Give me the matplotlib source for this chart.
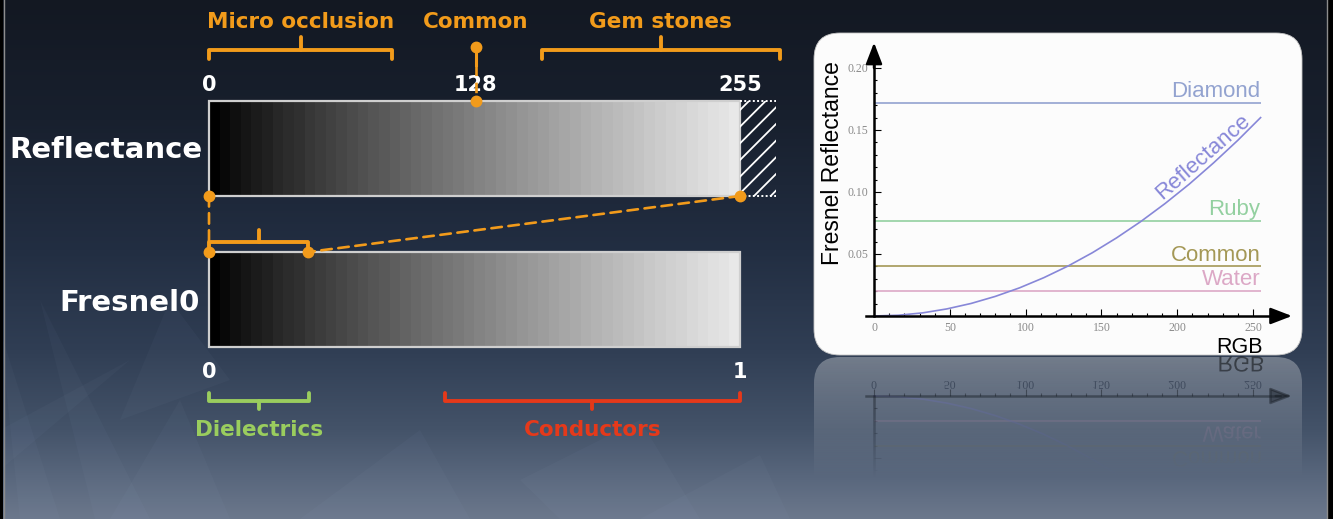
import numpy as np
import matplotlib
matplotlib.use("Agg")
import matplotlib.pyplot as plt
from matplotlib.patches import Rectangle, FancyBboxPatch, PathPatch, ConnectionPatch, Polygon
from matplotlib.lines import Line2D
from matplotlib.textpath import TextPath
from matplotlib.font_manager import FontProperties
from matplotlib.transforms import Affine2D
from matplotlib.ticker import FixedLocator, FormatStrFormatter

# ---------------------------------------------------------------- data
bar_names = ["Reflectance", "Fresnel0"]
reflectance_marks = [0, 128, 255]
reflectance_mark_labels = ["0", "128", "255"]
fresnel_marks = [0, 1]
fresnel_mark_labels = ["0", "1"]

usage_names = ["Micro occlusion", "Common", "Gem stones"]
micro_occlusion_range = [0, 88]
common_reflectance = 128
gem_stones_range = [160, 274]
hatch_end = 272.3                      # stored range beyond 255 (unused values)

fresnel_at_max_reflectance = 0.187     # where reflectance 255 lands on Fresnel0
class_names = ["Dielectrics", "Conductors"]
dielectrics_range = [0, 0.188]
conductors_range = [0.444, 1.0]

rgb_values = [0, 16, 32, 48, 64, 80, 96, 112, 128, 144, 160, 176, 192, 208, 224, 240, 255]
fresnel_reflectance = [0.0, 0.0006, 0.0025, 0.0057, 0.0101, 0.0158, 0.0227, 0.0309,
                       0.0403, 0.0510, 0.0630, 0.0762, 0.0907, 0.1064, 0.1235, 0.1417,
                       0.1600]
materials = ["Diamond", "Ruby", "Common", "Water"]
material_f0 = [0.172, 0.077, 0.040, 0.020]
chart_x_ticks = [0, 50, 100, 150, 200, 250]
chart_y_ticks = [0.05, 0.10, 0.15, 0.20]

# ---------------------------------------------------------------- style
plt.rcParams["font.family"] = ["DejaVu Sans"]
plt.rcParams["hatch.linewidth"] = 1.3

ORANGE = "#f29b1b"
GREEN = "#9acd5e"
RED = "#e5391a"
CURVE = "#8787d8"
MATERIAL_COLORS = ["#93a3d0", "#93d0a0", "#a49856", "#dca8c6"]
CHART_FONT = "Liberation Sans"
TICK_FONT = "Liberation Serif"

W, H = 1333, 519
fig = plt.figure(figsize=(W / 100, H / 100), dpi=100)


def px_axes(x0, y0, x1, y1, z, off=True):
    ax = fig.add_axes([x0 / W, 1 - y1 / H, (x1 - x0) / W, (y1 - y0) / H])
    ax.set_zorder(z)
    if off:
        ax.set_axis_off()
    return ax


# ---------------------------------------------------------------- background
stops_y = [0, 120, 250, 350, 430, 480, 519]
stops_rgb = np.array([(19, 24, 34), (24, 32, 46), (34, 46, 66), (48, 62, 84),
                      (68, 83, 105), (90, 104, 126), (108, 120, 140)]) / 255.0
rows = np.arange(H) + 0.5
col = np.stack([np.interp(rows, stops_y, stops_rgb[:, c]) for c in range(3)], axis=1)
bg = np.repeat(col[:, None, :], W, axis=1)

ax_bg = px_axes(0, 0, W, H, 0)
ax_bg.imshow(bg, extent=(0, W, H, 0), aspect="auto", interpolation="bilinear")
ax_bg.set_xlim(0, W)
ax_bg.set_ylim(H, 0)

# faint crystal shards in the backdrop
shards = [
    [(0, 330), (60, 519), (20, 519)],
    [(40, 300), (95, 519), (150, 519)],
    [(0, 430), (130, 360), (0, 470)],
    [(110, 519), (180, 400), (230, 519)],
    [(300, 519), (420, 430), (470, 519)],
    [(520, 480), (640, 420), (700, 519), (560, 519)],
    [(640, 519), (760, 455), (790, 519)],
    [(170, 300), (230, 380), (120, 420)],
]
for pts in shards:
    ax_bg.add_patch(Polygon(pts, closed=True, fc=(0.75, 0.82, 0.95, 0.03), ec="none"))

ax_bg.add_patch(Rectangle((0, 0), 3, H, fc="black", ec="none"))
ax_bg.plot([4, 4], [0, H], color="#8d8d8d", lw=1)
ax_bg.add_patch(Rectangle((1328, 0), 5, H, fc="black", ec="none"))
ax_bg.plot([1327, 1327], [0, H], color="#8d8d8d", lw=1)

# ---------------------------------------------------------------- chart panel
PANEL = (814, 33, 1302, 355)
MIRROR_Y = 356
CH_BOX = (866, 36, 1300, 330)
CH_XLIM = (-5.3, 281.0)
CH_YLIM = (-0.0113, 0.2258)

# reflected panel on the floor
ax_bg.add_patch(FancyBboxPatch((PANEL[0], MIRROR_Y + 1), PANEL[2] - PANEL[0], PANEL[3] - PANEL[1],
                               boxstyle="round,pad=0,rounding_size=26",
                               fc=(1, 1, 1, 0.32), ec="none"))

ax_c = px_axes(*CH_BOX, z=2, off=False)
ax_m = px_axes(CH_BOX[0], 2 * MIRROR_Y - CH_BOX[3], CH_BOX[2], 2 * MIRROR_Y - CH_BOX[1],
               z=0.5, off=False)


def style_chart(ax, alpha, mirrored):
    ink = (0, 0, 0, alpha)
    ax.set_xlim(*CH_XLIM)
    ax.set_ylim(*(CH_YLIM[::-1] if mirrored else CH_YLIM))
    ax.patch.set_visible(False)
    for side in ("top", "right"):
        ax.spines[side].set_visible(False)
    for side in ("left", "bottom"):
        ax.spines[side].set_position(("data", 0))
        ax.spines[side].set_linewidth(1.8)
        ax.spines[side].set_color(ink)
    ax.spines["left"].set_bounds(0, 0.205)
    ax.spines["bottom"].set_bounds(-5, 268)
    head = "-|>,head_length=1.3,head_width=0.5"
    ax.annotate("", xy=(0, 0.2205), xytext=(0, 0.2),
                arrowprops=dict(arrowstyle=head, color=ink, lw=1.8, shrinkA=0, shrinkB=0),
                annotation_clip=False)
    ax.annotate("", xy=(275.7, 0), xytext=(265, 0),
                arrowprops=dict(arrowstyle=head, color=ink, lw=1.8, shrinkA=0, shrinkB=0),
                annotation_clip=False)
    ax.xaxis.set_major_locator(FixedLocator(chart_x_ticks))
    ax.xaxis.set_minor_locator(FixedLocator(np.arange(10, 251, 10)))
    ax.yaxis.set_major_locator(FixedLocator(chart_y_ticks))
    ax.yaxis.set_minor_locator(FixedLocator(np.arange(0.01, 0.2001, 0.01)))
    ax.yaxis.set_major_formatter(FormatStrFormatter("%.2f"))
    ax.tick_params(which="both", direction="in", color=ink, width=0.8, pad=4)
    ax.tick_params(which="major", length=5)
    ax.tick_params(which="minor", length=2.5)
    if mirrored:
        ax.tick_params(labelbottom=False, labelleft=False)
    else:
        ax.tick_params(labelsize=8.5, labelcolor="#8a8a8a", labelfontfamily=TICK_FONT)
    ax.hlines(material_f0, 0, 255, colors=MATERIAL_COLORS, lw=1.2, alpha=alpha)
    ax.plot(rgb_values, fresnel_reflectance, color=CURVE, lw=1.2, alpha=alpha)


style_chart(ax_c, 1.0, False)
style_chart(ax_m, 0.45, True)

for name, f0, c in zip(materials, material_f0, MATERIAL_COLORS):
    ax_c.text(255, f0 + 0.0046, name, ha="right", va="baseline", color=c,
              fontsize=16, family=CHART_FONT)

p0 = ax_c.transData.transform((rgb_values[13], fresnel_reflectance[13]))
p1 = ax_c.transData.transform((rgb_values[14], fresnel_reflectance[14]))
curve_angle = np.degrees(np.arctan2(p1[1] - p0[1], p1[0] - p0[0]))
ax_c.text(217, 0.128, "Reflectance", rotation=curve_angle, rotation_mode="anchor",
          ha="center", va="center", color=CURVE, fontsize=16, family=CHART_FONT)
ax_c.text(-0.078, 0.568, "Fresnel Reflectance", transform=ax_c.transAxes, rotation=90,
          ha="center", va="center", color="black", fontsize=16.5, family=CHART_FONT)
ax_c.text(0.915, -0.061, "RGB", transform=ax_c.transAxes, ha="right", va="center",
          color="black", fontsize=15.5, family=CHART_FONT)


# mirrored labels of the reflection (glyph paths in the y-down background frame)
def flipped_text(s, x, y, size, color, alpha, family, ha="center", va="center"):
    tp = TextPath((0, 0), s, size=size, prop=FontProperties(family=family))
    ext = tp.get_extents()
    dx = -(ext.x0 + ext.x1) / 2 if ha == "center" else -ext.x1
    dy = -(ext.y0 + ext.y1) / 2 if va == "center" else 0
    path = Affine2D().translate(dx, dy).translate(x, y).transform_path(tp)
    ax_bg.add_patch(PathPatch(path, fc=color, ec="none", alpha=alpha, zorder=3))


def to_px(ax, x, y):
    d = ax.transData.transform((x, y))
    return d[0], H - d[1]


for v in chart_x_ticks:
    x, y0 = to_px(ax_c, v, 0)
    flipped_text(str(v), x, 2 * MIRROR_Y - (y0 + 11), 11.8, "#2c3648", 0.7, TICK_FONT)
rx, ry = CH_BOX[0] + 0.915 * (CH_BOX[2] - CH_BOX[0]), CH_BOX[3] + 0.061 * (CH_BOX[3] - CH_BOX[1])
flipped_text("RGB", rx, 2 * MIRROR_Y - ry, 21.5, "black", 0.5, CHART_FONT, ha="right")
for name, f0, c in zip(materials, material_f0, MATERIAL_COLORS):
    x, yb = to_px(ax_c, 255, f0 + 0.0046)
    flipped_text(name, x, 2 * MIRROR_Y - yb, 22.2, c, 0.45, CHART_FONT, ha="right", va="baseline")

# fade the reflection into the floor, then the panel itself
ax_top = px_axes(0, 0, W, H, 0.8)
fx0, fx1, fy0 = 806, 1312, MIRROR_Y + 1
fade_alpha = np.clip((np.arange(fy0, H) + 0.5 - fy0) / 120.0, 0, 1) ** 0.9
fade = np.dstack([bg[fy0:, fx0:fx1], np.repeat(fade_alpha[:, None], fx1 - fx0, axis=1)])
ax_top.imshow(fade, extent=(fx0, fx1, H, fy0), aspect="auto", interpolation="nearest")
ax_top.add_patch(FancyBboxPatch((PANEL[0], PANEL[1]), PANEL[2] - PANEL[0], PANEL[3] - PANEL[1],
                                boxstyle="round,pad=0,rounding_size=26",
                                fc="#fcfcfc", ec="#c4c4c4", lw=0.6))
ax_top.set_xlim(0, W)
ax_top.set_ylim(H, 0)

# ---------------------------------------------------------------- gradient bars
ax_r = px_axes(209, 101, 740, 196, 1.5)
ax_f = px_axes(209, 252, 740, 347, 1.5)

n_steps = 50
t = np.arange(n_steps) / (n_steps - 1)
shades = 0.91 * t ** 0.85
for ax, xmax in ((ax_r, reflectance_marks[-1]), (ax_f, fresnel_marks[-1])):
    ax.imshow(shades[None, :], cmap="gray", vmin=0, vmax=1, extent=(0, xmax, 0, 1),
              aspect="auto", interpolation="nearest")
    ax.set_xlim(0, xmax)
    ax.set_ylim(0, 1)
    ax.add_patch(Rectangle((0, 0), xmax, 1, fill=False, ec="#cfcfcf", lw=1.6, clip_on=False))

# values beyond 255: hatched
ax_r.add_patch(Rectangle((255, 0), hatch_end - 255, 1, fill=False, hatch="//", ec="white",
                         lw=0, clip_on=False))
for yy in (0, 1):
    ax_r.plot([255, hatch_end], [yy, yy], ls=(0, (1, 1.2)), color="white", lw=1.4,
              clip_on=False)

# row labels
bold = dict(fontweight="bold", color="white")
ax_r.text(-0.0113, 0.484, bar_names[0], transform=ax_r.transAxes, ha="right", va="center",
          fontsize=21, **bold)
ax_f.text(-0.017, 0.463, bar_names[1], transform=ax_f.transAxes, ha="right", va="center",
          fontsize=21, **bold)
for v, s in zip(reflectance_marks, reflectance_mark_labels):
    ax_r.text(v, 1.168, s, ha="center", va="center", fontsize=15, **bold)
for v, s in zip(fresnel_marks, fresnel_mark_labels):
    ax_f.text(v, -0.263, s, ha="center", va="center", fontsize=15, **bold)


def bracket(ax, x0, x1, y_end, y_bar, y_tip, color):
    xc = (x0 + x1) / 2
    kw = dict(color=color, lw=2.8, solid_joinstyle="round", solid_capstyle="round",
              clip_on=False)
    ax.plot([x0, x0, x1, x1], [y_end, y_bar, y_bar, y_end], **kw)
    ax.plot([xc, xc], [y_bar, y_tip], **kw)
    return xc


lab = dict(fontsize=15.5, fontweight="bold", ha="center", va="center")
xc = bracket(ax_r, *micro_occlusion_range, 1.442, 1.537, 1.674, ORANGE)
ax_r.text(xc, 1.832, usage_names[0], color=ORANGE, **lab)
xc = bracket(ax_r, *gem_stones_range, 1.442, 1.537, 1.674, ORANGE)
ax_r.text(xc, 1.832, usage_names[2], color=ORANGE, **lab)
ax_r.text(common_reflectance, 1.832, usage_names[1], color=ORANGE, **lab)
ax_r.plot([common_reflectance] * 2, [1.568, 1.379], color=ORANGE, lw=2.2, clip_on=False,
          zorder=5)
ax_r.plot([common_reflectance] * 2, [1.379, 1.0], color=ORANGE, lw=1.9,
          ls=(0, (4, 2.5)), clip_on=False, zorder=5)

bracket(ax_f, 0, fresnel_at_max_reflectance, 1.0, 1.105, 1.232, ORANGE)
xc = bracket(ax_f, *dielectrics_range, -0.484, -0.568, -0.653, GREEN)
ax_f.text(xc, -0.874, class_names[0], color=GREEN, **lab)
xc = bracket(ax_f, *conductors_range, -0.484, -0.568, -0.653, RED)
ax_f.text(xc, -0.874, class_names[1], color=RED, **lab)

# mapping between the two scales
for xy_a, xy_b in (((0, 0), (0, 1)), ((255, 0), (fresnel_at_max_reflectance, 1))):
    con = ConnectionPatch(xyA=xy_a, coordsA=ax_r.transData, xyB=xy_b, coordsB=ax_f.transData,
                          color=ORANGE, lw=1.9, linestyle=(0, (4, 2.5)))
    con.set_zorder(5)
    fig.add_artist(con)

dot = dict(marker="o", ls="none", ms=7.5, color=ORANGE, zorder=6)
fig.add_artist(Line2D([0, 255, common_reflectance, common_reflectance], [0, 0, 1.0, 1.568],
                      transform=ax_r.transData, **dot))
fig.add_artist(Line2D([0, fresnel_at_max_reflectance], [1, 1], transform=ax_f.transData, **dot))

fig.savefig("out.png", dpi=100)
